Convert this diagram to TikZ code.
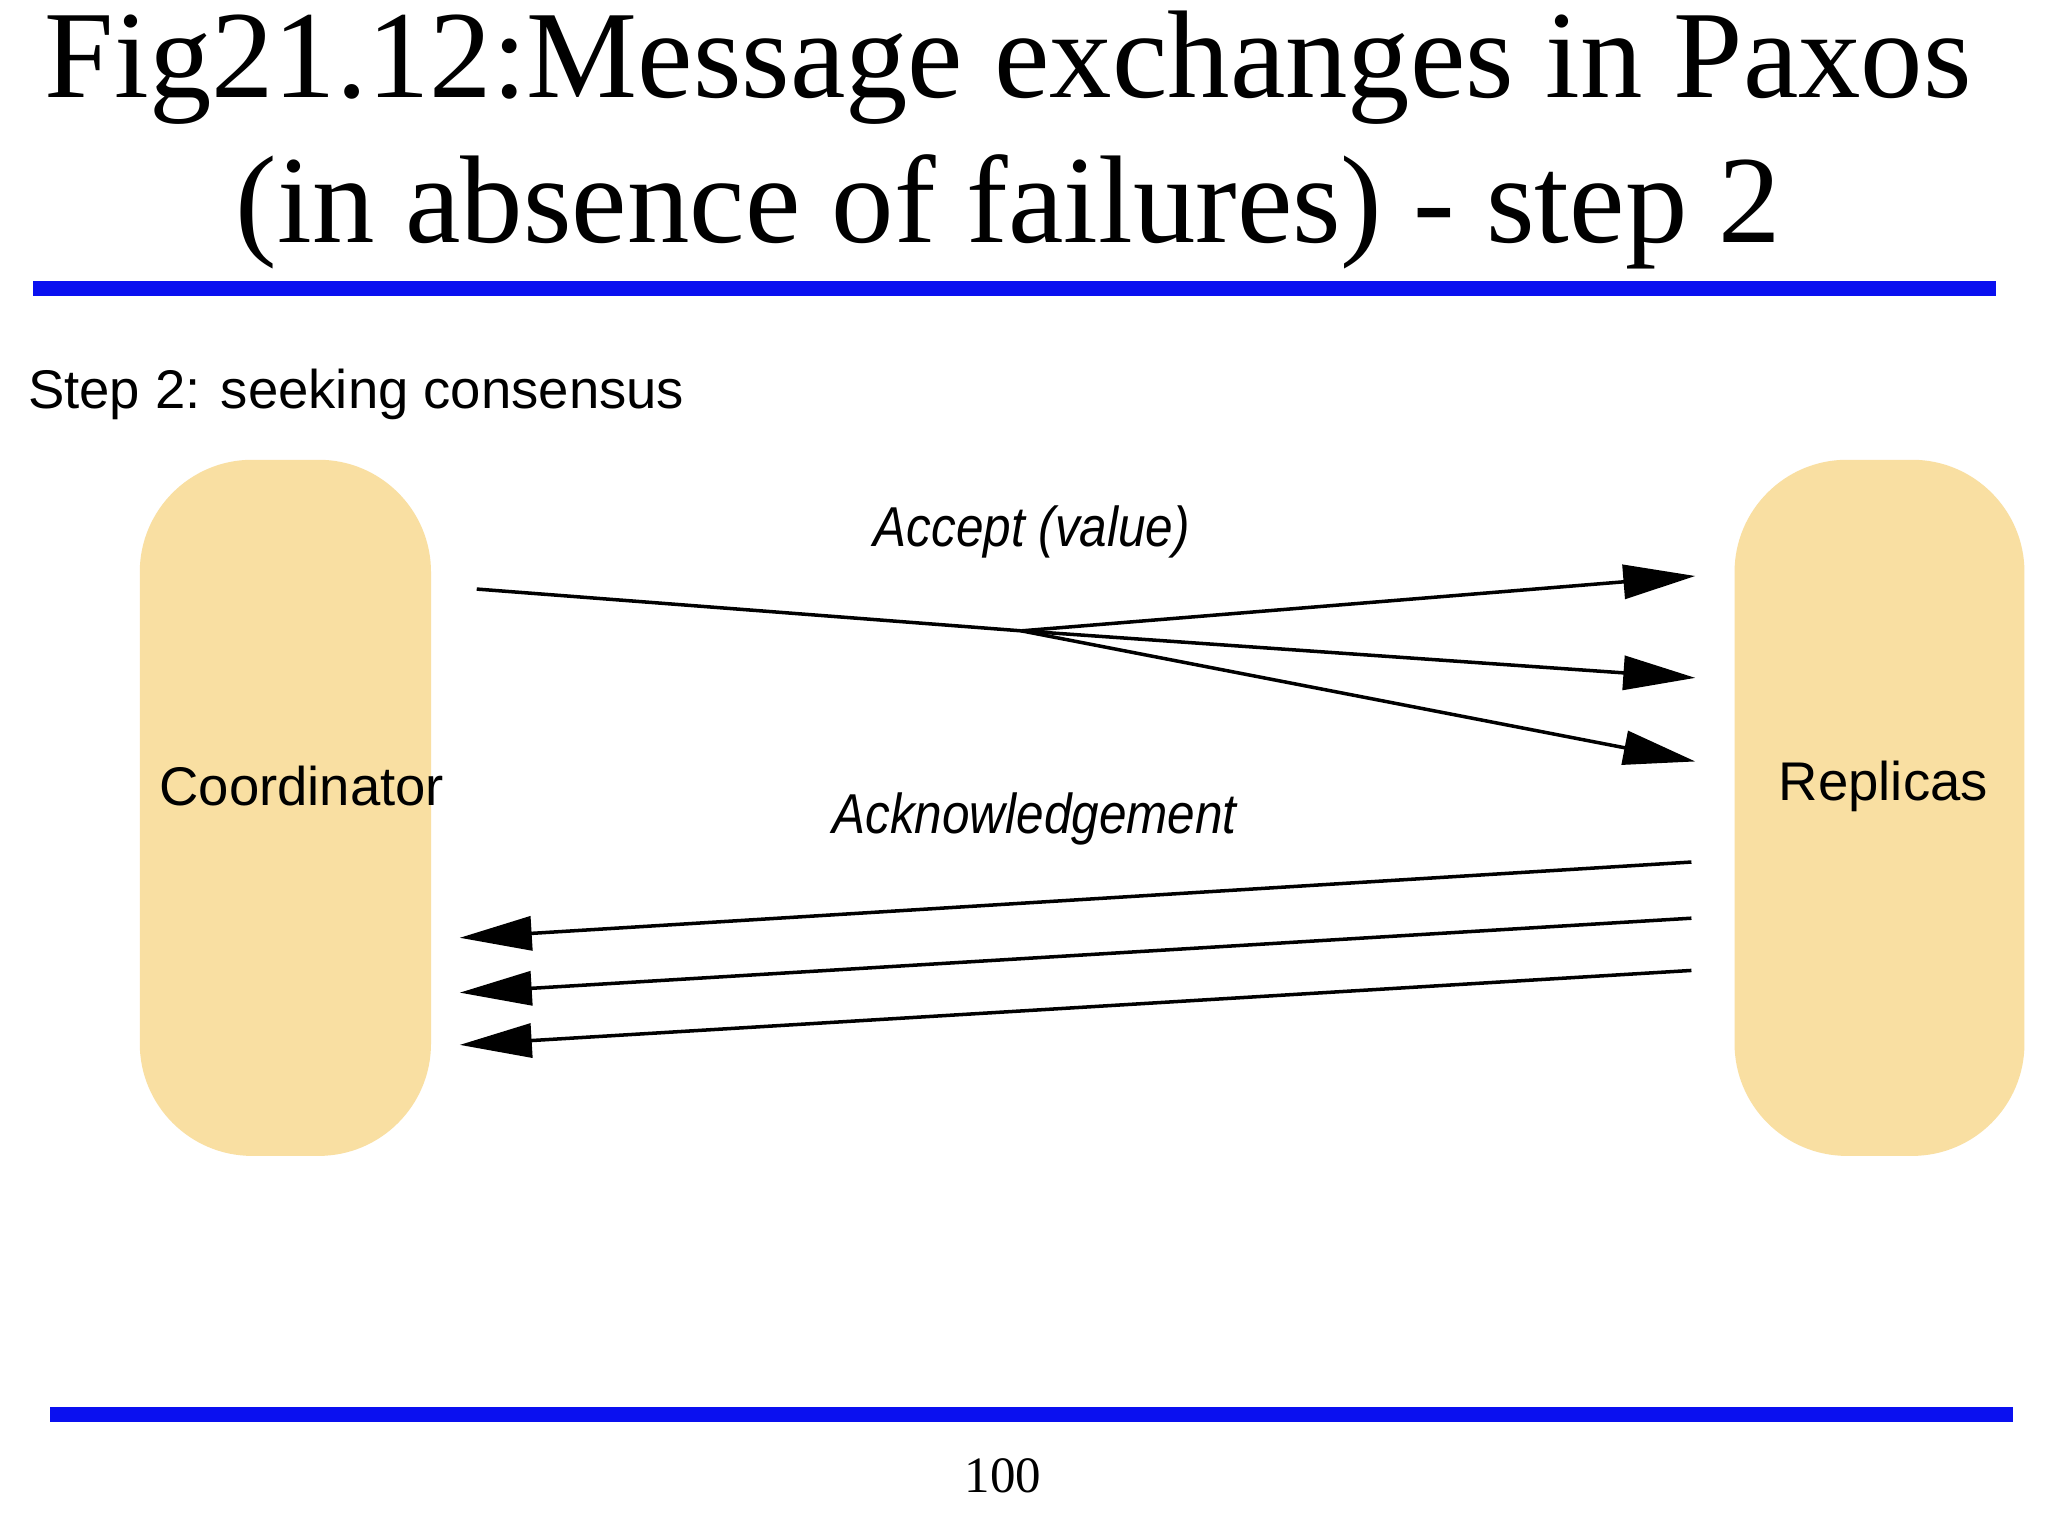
\documentclass[tikz,border=0pt]{standalone}
\usepackage{fontspec}
\setmainfont{Liberation Serif}
\newfontfamily\helv{Liberation Sans}
\usetikzlibrary{arrows.meta}
\definecolor{boxc}{HTML}{F9DFA2}
\definecolor{rule}{HTML}{0A10F0}
\tikzset{
  actor/.style={fill=boxc,rounded corners=32pt},
  msg/.style={line width=1pt,-{Triangle[length=0.72cm,width=0.34cm]}},
  lab/.style={font=\helv\fontsize{15.5}{18}\selectfont},
  ilab/.style={font=\helv\itshape\fontsize{16}{19}\selectfont,xscale=0.88},
}
\begin{document}
\begin{tikzpicture}[x=0.013061cm,y=-0.013061cm]
\useasboundingbox[fill=white] (0,0) rectangle (1568,1176);
\node[font=\fontsize{35.5}{42}\selectfont] (t1) at (772,52) {Fig21.12:Message exchanges in Paxos};
\node[font=\fontsize{35.5}{42}\selectfont] (t2) at (772,162) {(in absence of failures) - step 2};
\fill[rule] (25,215) rectangle (1528,227);
\fill[rule] (38,1077) rectangle (1541,1089);
\node[lab,anchor=west] (s) at (12,302) {Step 2: seeking consensus};
\fill[actor] (107,352) rectangle (330,885);
\fill[actor] (1328,352) rectangle (1550,885);
\node[lab] (c) at (231,602) {Coordinator};
\node[lab] (r) at (1442,602) {Replicas};
\node[ilab] (a1) at (790,407) {Accept (value)};
\node[ilab] (a2) at (792,627) {Acknowledgement};
\coordinate (s0) at (365,451);
\coordinate (m) at (782,483);
\coordinate (e1) at (1298,441);
\coordinate (e2) at (1298,519);
\coordinate (e3) at (1298,583);
\draw[line width=1pt] (s0) -- (m);
\draw[msg] (m) -- (e1);
\draw[msg] (m) -- (e2);
\draw[msg] (m) -- (e3);
\coordinate (b1) at (1295,660); \coordinate (f1) at (352,718);
\coordinate (b2) at (1295,703); \coordinate (f2) at (352,760);
\coordinate (b3) at (1295,743); \coordinate (f3) at (352,800);
\draw[msg] (b1) -- (f1);
\draw[msg] (b2) -- (f2);
\draw[msg] (b3) -- (f3);
\node[font=\fontsize{14.5}{17}\selectfont] (p) at (768,1130) {100};
\end{tikzpicture}
\end{document}
